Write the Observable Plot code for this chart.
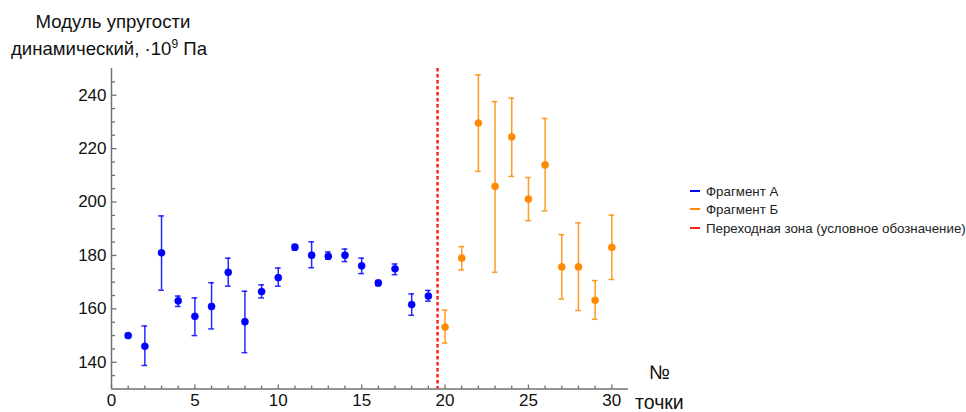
<!DOCTYPE html>
<html>
<head>
<meta charset="utf-8">
<script src="https://cdn.jsdelivr.net/npm/d3@7"></script>
<script src="https://cdn.jsdelivr.net/npm/@observablehq/plot@0.6"></script>
<style>
  html, body { margin: 0; padding: 0; background: #fff; }
  #wrap { position: relative; width: 966px; height: 412px; overflow: hidden;
          font-family: "Liberation Sans", Arial, sans-serif; color: #111; }
  #wrap svg { position: absolute; left: 0; top: 0; }
  .ttl { position: absolute; left: 0; width: 222px; text-align: center; font-size: 18.6px; line-height: 18px; white-space: nowrap; }
  .ttl sup { font-size: 12px; vertical-align: 0; position: relative; top: -7px; }
  .xl { position: absolute; font-size: 19.5px; line-height: 18px; white-space: nowrap; }
  .leg { position: absolute; left: 690px; font-size: 13.3px; line-height: 13px; color: #222; white-space: nowrap; }
  .leg i { display: inline-block; width: 10px; height: 2px; vertical-align: middle; margin-right: 6px; position: relative; top: -1px; }
</style>
</head>
<body>
<div id="wrap">
  <div class="ttl" style="top:13px; left:2px;">Модуль упругости</div>
  <div class="ttl" style="top:40px; left:-2px;">динамический, ·10<sup>9</sup> Па</div>
  <div class="xl" style="left:649px; top:363px;">№</div>
  <div class="xl" style="left:635px; top:393px;">точки</div>
  <div class="leg" style="top:185px;"><i style="background:#0000ff"></i>Фрагмент А</div>
  <div class="leg" style="top:203px;"><i style="background:#ff8a00"></i>Фрагмент Б</div>
  <div class="leg" style="top:222px;"><i style="background:#ff2020"></i>Переходная зона (условное обозначение)</div>
</div>
<script>
// Fragment A (points 1–19)
const pointsA = [1, 2, 3, 4, 5, 6, 7, 8, 9, 10, 11, 12, 13, 14, 15, 16, 17, 18, 19];
const valuesA = [150, 146, 181, 163, 157.2, 160.9, 173.7, 155.2, 166.5, 171.7, 183.1, 180.1, 179.7, 180.1, 176.1, 169.7, 175, 161.6, 164.8];
const lowA    = [149.2, 138.8, 167, 160.9, 150, 152.5, 168.5, 143.6, 164.1, 168.5, 182, 175.4, 178.6, 177.7, 173.2, 168.7, 172.8, 157.6, 162.9];
const highA   = [150.8, 153.6, 194.8, 164.8, 164.1, 169.8, 179, 166.6, 169, 175.3, 184.1, 185.1, 181.3, 182.4, 179, 170.6, 176.8, 165.6, 166.9];

// Fragment B (points 20–30)
const pointsB = [20, 21, 22, 23, 24, 25, 26, 27, 28, 29, 30];
const valuesB = [153.2, 179, 229.6, 205.9, 224.4, 201.1, 213.9, 175.7, 175.7, 163.2, 183];
const lowB    = [147.2, 174.6, 211.5, 173.7, 209.6, 193, 196.7, 163.7, 159.4, 156.1, 171];
const highB   = [159.5, 183.3, 247.6, 237.6, 238.9, 209.2, 231.3, 187.8, 192.2, 170.6, 195.1];

// Transition zone
const transition = [19.55];

// Ticks
const xMajor = [0, 5, 10, 15, 20, 25, 30];
const xMinor = d3.range(1, 31).filter(d => d % 5 !== 0);
const yMajor = [140, 160, 180, 200, 220, 240];
const yMinor = [135, 145, 150, 155, 165, 170, 175, 185, 190, 195, 205, 210, 215, 225, 230, 235, 245];

const blue = "#0000ff";
const orange = "#ff8a00";
const red = "#ff2020";
const axisColor = "#707070";

const mk = (xs, vs, lo, hi) => xs.map((x, i) => ({x, v: vs[i], lo: lo[i], hi: hi[i]}));
const dataA = mk(pointsA, valuesA, lowA, highA);
const dataB = mk(pointsB, valuesB, lowB, highB);

const capW = 0.17;
const errMarks = (data, color) => [
  Plot.ruleX(data, {x: "x", y1: "lo", y2: "hi", stroke: color, strokeWidth: 1.5, strokeOpacity: 0.85}),
  Plot.ruleY(data, {y: "lo", x1: d => d.x - capW, x2: d => d.x + capW, stroke: color, strokeWidth: 1.5, strokeOpacity: 0.85}),
  Plot.ruleY(data, {y: "hi", x1: d => d.x - capW, x2: d => d.x + capW, stroke: color, strokeWidth: 1.5, strokeOpacity: 0.85}),
  Plot.dot(data, {x: "x", y: "v", r: 3.6, fill: color, stroke: color, strokeOpacity: 0.4, strokeWidth: 1})
];

const chart = Plot.plot({
  width: 966,
  height: 412,
  marginLeft: 111,
  marginRight: 338,
  marginTop: 68,
  marginBottom: 23.5,
  x: {domain: [0, 31]},
  y: {domain: [130, 250]},
  style: {fontFamily: "Liberation Sans, Arial, sans-serif", fontSize: "17px", color: "#111", background: "transparent"},
  marks: [
    // labels
    Plot.axisX({ticks: xMajor, tickSize: 0, tickPadding: 5, label: null, fontSize: 17}),
    Plot.axisY({ticks: yMajor, tickSize: 0, tickPadding: 5, label: null, fontSize: 17}),
    // inward tick marks
    Plot.axisY({ticks: yMajor, tickSize: -5.5, text: null, label: null, stroke: axisColor, strokeWidth: 1.3}),
    Plot.axisY({ticks: yMinor, tickSize: -4, text: null, label: null, stroke: axisColor, strokeWidth: 1.3}),
    Plot.axisX({ticks: xMajor, tickSize: -4, text: null, label: null, stroke: axisColor, strokeWidth: 1.3}),
    Plot.axisX({ticks: xMinor, tickSize: -3, text: null, label: null, stroke: axisColor, strokeWidth: 1.3}),
    // axis lines
    Plot.ruleX([0], {stroke: axisColor, strokeWidth: 1.5}),
    Plot.ruleY([130], {stroke: axisColor, strokeWidth: 1.5}),
    // transition zone
    Plot.ruleX(transition, {x: d => d, stroke: red, strokeWidth: 2.5, strokeDasharray: "3.5,2.5"}),
    ...errMarks(dataA, blue),
    ...errMarks(dataB, orange)
  ]
});
document.getElementById("wrap").prepend(chart);
</script>
</body>
</html>
